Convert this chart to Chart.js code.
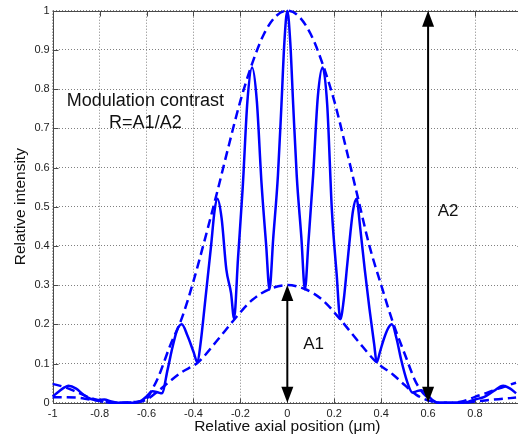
<!DOCTYPE html>
<html>
<head>
<meta charset="utf-8">
<script src="https://cdn.jsdelivr.net/npm/chart.js@4/dist/chart.umd.min.js"></script>
<style>
html,body{margin:0;padding:0;overflow:hidden;background:#fff;}
#wrap{width:530px;height:441px;}
</style>
</head>
<body>
<div id="wrap"><canvas id="c" width="530" height="441"></canvas></div>
<script>
// ---- data ----
const solidX = [-1,-0.975,-0.95,-0.933,-0.9,-0.87,-0.84,-0.81,-0.78,-0.75,-0.72,-0.68,-0.65,-0.62,-0.6,-0.575,-0.55,-0.535,-0.51,-0.49,-0.47,-0.45,-0.425,-0.4,-0.383,-0.37,-0.35,-0.325,-0.31,-0.298,-0.28,-0.26,-0.24,-0.227,-0.21,-0.19,-0.17,-0.15,-0.13,-0.11,-0.09,-0.076,-0.06,-0.04,-0.025,-0.0125,0,
  0.0125,0.025,0.04,0.06,0.075,0.09,0.11,0.13,0.15,0.17,0.19,0.21,0.226,0.24,0.255,0.27,0.28,0.295,0.31,0.33,0.35,0.37,0.381,0.395,0.41,0.43,0.446,0.465,0.485,0.51,0.533,0.55,0.57,0.6,0.62,0.64,0.7,0.75,0.77,0.8,0.84,0.88,0.92,0.95,0.975];
const solidY = [0.016,0.028,0.039,0.043,0.036,0.021,0.01,0.007,0.008,0.003,0,0,0,0.006,0.016,0.029,0.026,0.024,0.085,0.14,0.185,0.2,0.17,0.13,0.103,0.15,0.26,0.40,0.49,0.52,0.47,0.34,0.28,0.215,0.37,0.55,0.77,0.855,0.77,0.56,0.40,0.289,0.42,0.58,0.76,0.92,1.0,
  0.92,0.76,0.58,0.42,0.289,0.41,0.58,0.78,0.855,0.76,0.49,0.33,0.213,0.26,0.35,0.44,0.49,0.52,0.45,0.34,0.24,0.15,0.103,0.13,0.16,0.19,0.2,0.165,0.11,0.055,0.026,0.029,0.032,0.018,0.006,0,0,0,0.002,0.008,0.015,0.03,0.043,0.036,0.024];

const upperX = [-1,-0.95,-0.9,-0.85,-0.8,-0.75,-0.7,-0.65,-0.6,-0.575,-0.55,-0.5,-0.45,-0.4,-0.35,-0.3,-0.25,-0.2,-0.15,-0.1,-0.05,0,0.05,0.1,0.15,0.2,0.25,0.3,0.35,0.4,0.45,0.5,0.55,0.6,0.65,0.7,0.75,0.8,0.85,0.9,0.975];
const upperY = [0.048,0.04,0.028,0.015,0.005,0,0,0.002,0.01,0.035,0.065,0.145,0.215,0.31,0.42,0.535,0.655,0.77,0.865,0.94,0.985,1.0,0.985,0.94,0.865,0.77,0.65,0.525,0.40,0.30,0.205,0.125,0.05,0.012,0,0,0.004,0.015,0.025,0.036,0.051];

const lowerX = [-1,-0.9,-0.85,-0.8,-0.75,-0.7,-0.65,-0.6,-0.55,-0.5,-0.45,-0.38,-0.3,-0.225,-0.15,-0.075,0,0.075,0.15,0.225,0.3,0.38,0.45,0.5,0.55,0.6,0.65,0.75,0.8,0.9,0.975];
const lowerY = [0.014,0.013,0.009,0.004,0,0,0.001,0.008,0.03,0.055,0.078,0.103,0.158,0.213,0.262,0.29,0.3,0.29,0.262,0.213,0.158,0.103,0.072,0.045,0.02,0.006,0,0,0.003,0.009,0.013];

const xTicks = [-1,-0.8,-0.6,-0.4,-0.2,0,0.2,0.4,0.6,0.8,1];
const xTickLabels = ['-1','-0.8','-0.6','-0.4','-0.2','0','0.2','0.4','0.6','0.8','1'];
const yTicks = [0,0.1,0.2,0.3,0.4,0.5,0.6,0.7,0.8,0.9,1];
const yTickLabels = ['0','0.1','0.2','0.3','0.4','0.5','0.6','0.7','0.8','0.9','1'];

// double-headed arrows: x position, bottom value, top value, label
const arrowX = [0, 0.6];
const arrowBottom = [0, 0];
const arrowTop = [0.3, 1.0];
const arrowLabels = ['A1', 'A2'];
const arrowLabelX = [0.068, 0.641];
const arrowLabelY = [0.136, 0.476];

const noteLines = ['Modulation contrast', 'R=A1/A2'];
const noteX = [-0.605, -0.605];
const noteY = [0.757, 0.702];

const pts = (xs, ys) => xs.map((x, i) => ({x: x, y: ys[i]}));
const FONT = '"Liberation Sans", Arial, sans-serif';
const BLUE = '#0000ff';

const decor = {
  id: 'decor',
  beforeDatasetsDraw(chart) {
    const {ctx, chartArea: a, scales: {x, y}} = chart;
    ctx.save();
    ctx.strokeStyle = '#4a4a4a';
    ctx.lineWidth = 1;
    ctx.beginPath();
    const L = Math.round(a.left) + 0.5, R = Math.round(a.right) + 0.5;
    const T = Math.round(a.top) + 0.5, B = Math.round(a.bottom) + 0.5;
    ctx.rect(L, T, R - L, B - T);
    const tl = 5;
    xTicks.forEach(v => {
      const px = Math.round(x.getPixelForValue(v)) + 0.5;
      ctx.moveTo(px, B); ctx.lineTo(px, B - tl);
      ctx.moveTo(px, T); ctx.lineTo(px, T + tl);
    });
    yTicks.forEach(v => {
      const py = Math.round(y.getPixelForValue(v)) + 0.5;
      ctx.moveTo(L, py); ctx.lineTo(L + tl, py);
      ctx.moveTo(R, py); ctx.lineTo(R - tl, py);
    });
    ctx.stroke();
    ctx.restore();
  },
  afterDatasetsDraw(chart) {
    const {ctx, scales: {x, y}} = chart;
    ctx.save();
    ctx.strokeStyle = '#000';
    ctx.fillStyle = '#000';
    ctx.lineWidth = 2;
    const hl = 16, hw = 6;
    arrowX.forEach((xv, i) => {
      const px = x.getPixelForValue(xv);
      const yb = y.getPixelForValue(arrowBottom[i]);
      const yt = y.getPixelForValue(arrowTop[i]);
      ctx.beginPath();
      ctx.moveTo(px, yb - hl + 2); ctx.lineTo(px, yt + hl - 2);
      ctx.stroke();
      ctx.beginPath();
      ctx.moveTo(px, yt); ctx.lineTo(px - hw, yt + hl); ctx.lineTo(px + hw, yt + hl); ctx.closePath();
      ctx.fill();
      ctx.beginPath();
      ctx.moveTo(px, yb); ctx.lineTo(px - hw, yb - hl); ctx.lineTo(px + hw, yb - hl); ctx.closePath();
      ctx.fill();
    });
    ctx.fillStyle = '#111';
    ctx.font = '17px ' + FONT;
    ctx.textBaseline = 'alphabetic';
    ctx.textAlign = 'left';
    arrowLabels.forEach((t, i) => {
      ctx.fillText(t, x.getPixelForValue(arrowLabelX[i]), y.getPixelForValue(arrowLabelY[i]));
    });
    ctx.font = '18px ' + FONT;
    ctx.textAlign = 'center';
    noteLines.forEach((t, i) => {
      ctx.fillText(t, x.getPixelForValue(noteX[i]), y.getPixelForValue(noteY[i]));
    });
    ctx.restore();
  }
};

new Chart(document.getElementById('c'), {
  type: 'line',
  data: {
    datasets: [
      {data: pts(upperX, upperY), borderColor: BLUE, borderWidth: 2.5, borderDash: [9, 5], pointRadius: 0, cubicInterpolationMode: 'monotone', fill: false, clip: false},
      {data: pts(lowerX, lowerY), borderColor: BLUE, borderWidth: 2.5, borderDash: [9, 5], pointRadius: 0, cubicInterpolationMode: 'monotone', fill: false, clip: false},
      {data: pts(solidX, solidY), borderColor: BLUE, borderWidth: 2.5, pointRadius: 0, cubicInterpolationMode: 'monotone', fill: false, clip: false}
    ]
  },
  options: {
    responsive: false,
    animation: false,
    events: [],
    layout: {padding: {top: 10.7, right: 5.3, left: 0, bottom: 0}},
    plugins: {legend: {display: false}, tooltip: {enabled: false}},
    scales: {
      x: {
        type: 'linear', min: -1, max: 1,
        afterBuildTicks: s => { s.ticks = xTicks.map(v => ({value: v})); },
        afterFit: s => { s.height = 38.3; },
        ticks: {autoSkip: false, maxRotation: 0, padding: 5, color: '#222', font: {family: FONT, size: 11},
          callback: (v, i) => xTickLabels[i]},
        grid: {drawTicks: false, color: '#808080', lineWidth: 1},
        border: {display: false, dash: [1, 2]},
        title: {display: true, text: 'Relative axial position (μm)', color: '#111', font: {family: FONT, size: 15.5}, padding: {top: 0, bottom: 4.5}}
      },
      y: {
        type: 'linear', min: 0, max: 1,
        afterBuildTicks: s => { s.ticks = yTicks.map(v => ({value: v})); },
        afterFit: s => { s.width = 52.7; },
        ticks: {autoSkip: false, padding: 3, color: '#222', font: {family: FONT, size: 11},
          callback: (v, i) => yTickLabels[i]},
        grid: {drawTicks: false, color: '#808080', lineWidth: 1},
        border: {display: false, dash: [1, 2]},
        title: {display: true, text: 'Relative intensity', color: '#111', font: {family: FONT, size: 15.5}, padding: {top: 11, bottom: 0}}
      }
    }
  },
  plugins: [decor]
});
</script>
</body>
</html>
